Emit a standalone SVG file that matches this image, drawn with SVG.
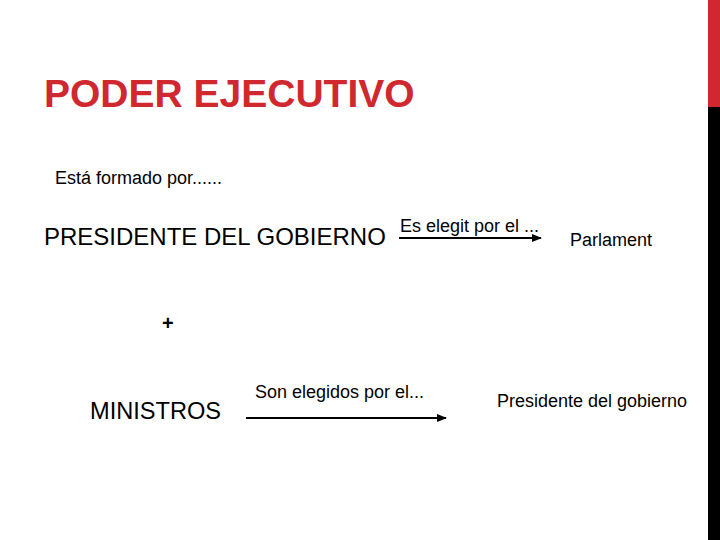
<svg xmlns="http://www.w3.org/2000/svg" width="720" height="540" viewBox="0 0 720 540">
<style>
text{font-family:"Liberation Sans",Arial,sans-serif;fill:#000}
.title{font-weight:bold;fill:#d0282e;font-size:39px}
.s18{font-size:18px}
.conn{stroke:#000;stroke-width:2;fill:none;marker-end:url(#ah)}
</style>
<defs>
<marker id="ah" viewBox="0 0 10 10" refX="9" refY="5" markerWidth="5" markerHeight="5" orient="auto" markerUnits="strokeWidth">
<path d="M0,1 L10,5 L0,9 z" fill="#000"/>
</marker>
</defs>
<rect width="720" height="540" fill="#fff"/>
<rect x="708" y="0" width="12" height="107" fill="#d0282e"/>
<rect x="708" y="107" width="12" height="433" fill="#000"/>
<text class="title" x="44" y="107">PODER EJECUTIVO</text>
<text class="s18" x="55" y="184">Está formado por......</text>
<g id="presidente"><text x="44" y="245" font-size="24">PRESIDENTE DEL GOBIERNO</text></g>
<g id="parlament"><text class="s18" x="570" y="246">Parlament</text></g>
<g id="plus"><text x="162" y="330" font-size="20" font-weight="bold">+</text></g>
<g id="ministros"><text x="90" y="419" font-size="23.6">MINISTROS</text></g>
<g id="presidente2"><text class="s18" x="497" y="407">Presidente del gobierno</text></g>
<g id="connectors">
<line class="conn" x1="399" y1="238" x2="541" y2="238"/>
<text class="s18" x="400" y="232">Es elegit por el ...</text>
<line class="conn" x1="246" y1="418" x2="446" y2="418"/>
<text class="s18" x="255" y="398">Son elegidos por el...</text>
</g>
</svg>
